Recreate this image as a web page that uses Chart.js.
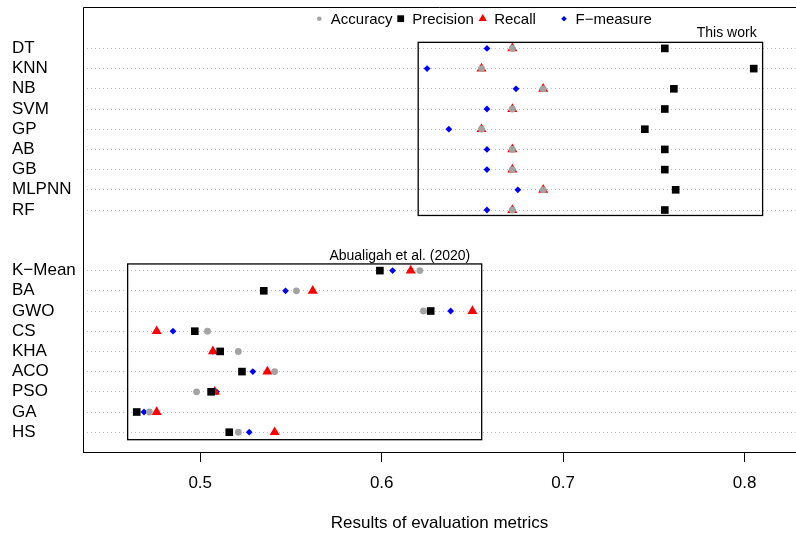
<!DOCTYPE html>
<html>
<head>
<meta charset="utf-8">
<script src="https://cdn.jsdelivr.net/npm/chart.js@4.4.1/dist/chart.umd.min.js"></script>
<style>
  html, body { margin: 0; padding: 0; background: #fff; }
  #wrap { width: 796px; height: 534px; }
</style>
</head>
<body>
<div id="wrap"><canvas id="chart"></canvas></div>
<script>
// rows top to bottom, blanks are the gap between the two groups
const rowLabels = ['DT', 'KNN', 'NB', 'SVM', 'GP', 'AB', 'GB', 'MLPNN', 'RF', '', '',
    'K\u2212Mean', 'BA', 'GWO', 'CS', 'KHA', 'ACO', 'PSO', 'GA', 'HS'];

const accuracy  = [0.672, 0.655, 0.689, 0.672, 0.655, 0.672, 0.672, 0.689, 0.672, null, null,
    0.621, 0.553, 0.623, 0.504, 0.521, 0.541, 0.498, 0.472, 0.521];
const precision = [0.756, 0.805, 0.761, 0.756, 0.745, 0.756, 0.756, 0.762, 0.756, null, null,
    0.599, 0.535, 0.627, 0.497, 0.511, 0.523, 0.506, 0.465, 0.516];
const recall    = [0.672, 0.655, 0.689, 0.672, 0.655, 0.672, 0.672, 0.689, 0.672, null, null,
    0.616, 0.562, 0.650, 0.476, 0.507, 0.537, 0.508, 0.476, 0.541];
const fmeasure  = [0.658, 0.625, 0.674, 0.658, 0.637, 0.658, 0.658, 0.675, 0.658, null, null,
    0.606, 0.547, 0.638, 0.485, 0.507, 0.529, 0.509, 0.469, 0.527];

const xTicks = [0.5, 0.6, 0.7, 0.8];
const xMin = 0.4354, xMax = 0.8283;
const yMin = -1.05, yMax = 20.98;

// group boxes, in data units (x = metric value, y = row)
const workBox = { x0: 0.6201, x1: 0.8099, y0: 0.70, y1: 9.27, label: 'This work', lx: 0.7901, ly: 0.44 };
const refBox = { x0: 0.4600, x1: 0.6551, y0: 11.67, y1: 20.37, label: 'Abualigah et al. (2020)', lx: 0.6100, ly: 11.49 };

const FONT = '"Liberation Sans", Arial, Helvetica, sans-serif';

function toPoints(values) {
    return values.map((v, i) => v == null ? null : { x: v, y: i + 1 }).filter(Boolean);
}

const series = [
    { label: 'Accuracy', data: accuracy, style: 'circle', radius: 3.4, color: '#a3a3a3', order: 1 },
    { label: 'Precision', data: precision, style: 'rect', radius: 5.4, color: '#000000', order: 0 },
    { label: 'Recall', data: recall, style: 'triangle', radius: 5.8, color: '#ff0000', order: 2 },
    { label: 'F\u2212measure', data: fmeasure, style: 'rectRot', radius: 3.4, color: '#0000ff', order: 3 }
];

const boxesPlugin = {
    id: 'boxes',
    beforeDatasetsDraw(chart) {
        const { ctx, scales: { x, y } } = chart;
        ctx.save();
        ctx.strokeStyle = '#000';
        ctx.lineWidth = 1.3;
        [workBox, refBox].forEach(b => {
            const l = x.getPixelForValue(b.x0), r = x.getPixelForValue(b.x1);
            const t = y.getPixelForValue(b.y0), btm = y.getPixelForValue(b.y1);
            ctx.strokeRect(l, t, r - l, btm - t);
        });
        ctx.restore();
    },
    afterDraw(chart) {
        const { ctx, chartArea, scales: { x, y } } = chart;
        ctx.save();
        // top and left frame lines
        ctx.strokeStyle = '#000';
        ctx.lineWidth = 1;
        ctx.beginPath();
        ctx.moveTo(chartArea.right, chartArea.top + 0.5);
        ctx.lineTo(chartArea.left + 0.5, chartArea.top + 0.5);
        ctx.lineTo(chartArea.left + 0.5, chartArea.bottom);
        ctx.stroke();

        // box captions
        ctx.fillStyle = '#000';
        ctx.font = '14px ' + FONT;
        ctx.textAlign = 'center';
        ctx.textBaseline = 'alphabetic';
        [workBox, refBox].forEach(b => {
            ctx.fillText(b.label, x.getPixelForValue(b.lx), y.getPixelForValue(b.ly));
        });

        // legend
        const legendX = [319.3, 400.7, 482.7, 564];
        const ly = 18.7;
        ctx.font = '15px ' + FONT;
        ctx.textAlign = 'left';
        ctx.textBaseline = 'middle';
        series.forEach((s, i) => {
            ctx.fillStyle = s.color;
            const r = s.style === 'circle' ? 2.3 : s.style === 'rectRot' ? 2.8 : 4.8;
            Chart.helpers.drawPoint(ctx, { pointStyle: s.style, radius: r, rotation: 0, borderWidth: 0 }, legendX[i], ly);
            ctx.fillStyle = '#000';
            ctx.fillText(s.label, legendX[i] + 11.5, ly + 1);
        });
        ctx.restore();
    }
};

new Chart(document.getElementById('chart'), {
    type: 'scatter',
    data: {
        datasets: series.map(s => ({
            label: s.label,
            data: toPoints(s.data),
            order: s.order,
            pointStyle: s.style,
            pointRadius: s.radius,
            pointBackgroundColor: s.color,
            pointBorderWidth: 0,
            showLine: false
        }))
    },
    options: {
        responsive: true,
        maintainAspectRatio: false,
        animation: false,
        events: [],
        layout: { autoPadding: false, padding: { top: 7, left: 12, right: 0, bottom: 0 } },
        plugins: {
            legend: { display: false },
            tooltip: { enabled: false }
        },
        scales: {
            x: {
                type: 'linear',
                min: xMin,
                max: xMax,
                afterBuildTicks: s => { s.ticks = xTicks.map(v => ({ value: v })); },
                afterFit: s => { s.height = 82; s.paddingLeft = 0; s.paddingRight = 0; },
                grid: { drawOnChartArea: false, drawTicks: true, tickLength: 10, color: '#000', tickColor: '#000' },
                border: { display: true, color: '#000', width: 1 },
                ticks: {
                    color: '#000',
                    font: { family: FONT, size: 17 },
                    padding: 11,
                    maxRotation: 0,
                    callback: v => v.toFixed(1)
                },
                title: {
                    display: true,
                    text: 'Results of evaluation metrics',
                    color: '#000',
                    font: { family: FONT, size: 17 },
                    padding: { top: 0, bottom: 0 }
                }
            },
            y: {
                type: 'linear',
                reverse: true,
                min: yMin,
                max: yMax,
                afterBuildTicks: s => {
                    s.ticks = rowLabels.map((l, i) => l ? { value: i + 1 } : null).filter(Boolean);
                },
                afterFit: s => { s.width = 71; s.paddingTop = 0; s.paddingBottom = 0; },
                grid: {
                    color: '#bdbdbd',
                    lineWidth: 1,
                    drawTicks: false
                },
                // in v4 the grid line dash comes from border.dash
                border: { display: false, dash: [1, 3] },
                ticks: {
                    autoSkip: false,
                    crossAlign: 'far',
                    color: '#000',
                    padding: 0,
                    font: { family: FONT, size: 17, lineHeight: 1 },
                    callback: v => rowLabels[v - 1]
                }
            }
        }
    },
    plugins: [boxesPlugin]
});
</script>
</body>
</html>
